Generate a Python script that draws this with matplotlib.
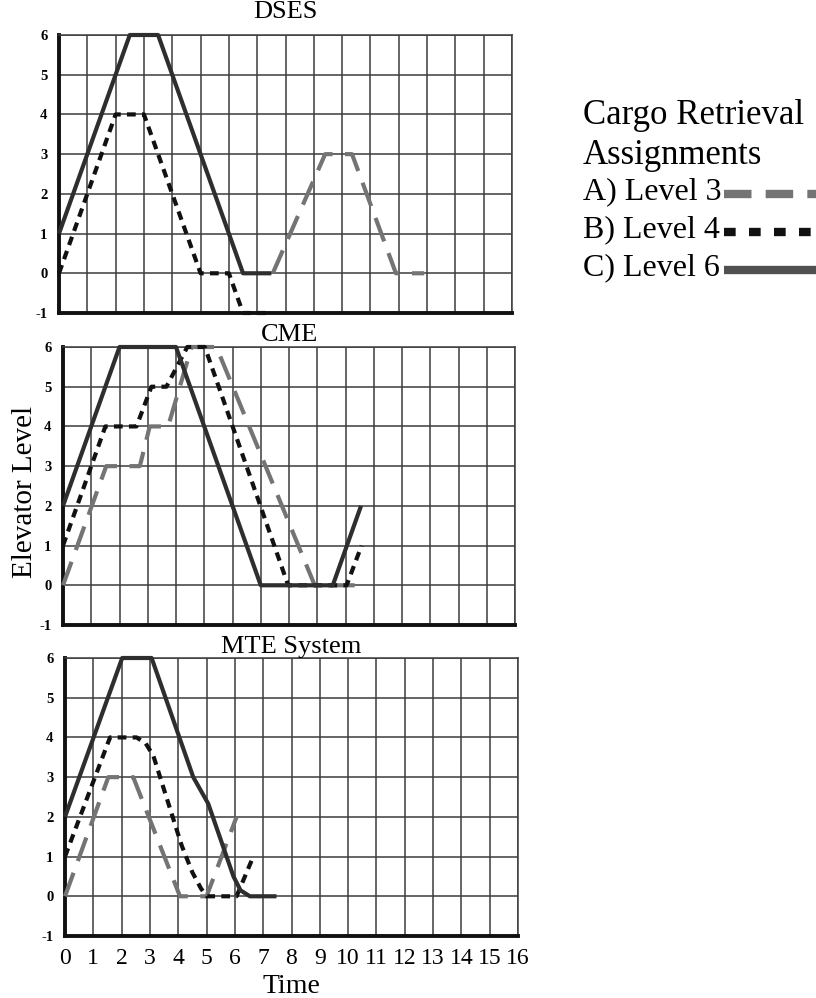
import numpy as np
import matplotlib
matplotlib.use("Agg")
import matplotlib.pyplot as plt
from matplotlib.lines import Line2D

plt.rcParams['font.family'] = ['Liberation Serif', 'DejaVu Serif']

# DSES
dses_t3 = [7.55, 9.4, 10.35, 11.9, 12.9]
dses_y3 = [0, 3, 3, 0, 0]
dses_t4 = [0, 2, 3, 5, 6, 6.5, 7.5]
dses_y4 = [0, 4, 4, 0, 0, -1, -1]
dses_t6 = [0, 2.5, 3.5, 6.5, 7.5]
dses_y6 = [1, 6, 6, 0, 0]

# CME
cme_t3 = [0, 1.53, 2.72, 3.07, 3.72, 4.55, 5.43, 8.91, 10.57]
cme_y3 = [0, 3, 3, 4, 4, 6, 6, 0, 0]
cme_t4 = [0, 1.5, 2.6, 3.13, 3.66, 4.4, 5.02, 7.97, 10.04, 10.57]
cme_y4 = [1, 4, 4, 5, 5, 6, 6, 0, 0, 1]
cme_t6 = [0, 2.0, 4.0, 7.0, 9.55, 10.55]
cme_y6 = [2, 6, 6, 0, 0, 2]

# MTE System
mte_t3 = [0, 1.53, 2.41, 4.06, 5.0, 6.06]
mte_y3 = [0, 3, 3, 0, 0, 2]
mte_t4 = [0, 1.59, 2.53, 2.85, 3.12, 4.12, 4.5, 4.8, 5.0, 6.06, 6.65]
mte_y4 = [1, 4, 4, 3.85, 3.54, 1.28, 0.6, 0.2, 0, 0, 1]
mte_t6 = [0, 2.02, 3.06, 4.53, 5.06, 5.95, 6.2, 6.53, 7.47]
mte_y6 = [2, 6, 6, 3, 2.33, 0.5, 0.15, 0, 0]

panels = [
    ("DSES", (dses_t3, dses_y3), (dses_t4, dses_y4), (dses_t6, dses_y6)),
    ("CME", (cme_t3, cme_y3), (cme_t4, cme_y4), (cme_t6, cme_y6)),
    ("MTE System", (mte_t3, mte_y3), (mte_t4, mte_y4), (mte_t6, mte_y6)),
]

x_ticks = list(range(0, 17))
y_ticks = list(range(-1, 7))

legend_labels = ["A) Level 3", "B) Level 4", "C) Level 6"]

c3 = "#747474"
c4 = "#111111"
c6 = "#2e2e2e"
ls3 = (0, (6, 3))
ls4 = (0, (2.1, 1.5))

W, H = 816, 998
fig = plt.figure(figsize=(W / 100, H / 100), dpi=100)

boxes = [(59, 512, 35, 313), (63, 515, 347, 625), (65, 518, 658, 936)]
title_y = [12, 335, 647]

for i, (name, s3, s4, s6) in enumerate(panels):
    l, r, t, b = boxes[i]
    ax = fig.add_axes([l / W, 1 - b / H, (r - l) / W, (b - t) / H])
    ax.set_xlim(0, 16)
    ax.set_ylim(-1, 6)
    ax.set_xticks(x_ticks)
    ax.set_yticks(y_ticks)
    ax.grid(True, color="#3c3c3c", lw=1.1)
    ax.set_axisbelow(True)
    ax.tick_params(length=0)
    ax.set_yticklabels([str(v) for v in y_ticks], fontsize=10.5, fontweight="bold")
    for tl in ax.get_yticklabels():
        tl.set_x(-0.015)
    if i == 2:
        ax.set_xticklabels([str(v) for v in x_ticks], fontsize=17)
        ax.tick_params(axis="x", pad=9)
        ax.set_xlabel("Time", fontsize=20, labelpad=3)
    else:
        ax.set_xticklabels([])
    for sp in ["left", "bottom"]:
        ax.spines[sp].set_linewidth(2.8)
        ax.spines[sp].set_color("#111111")
    for sp in ["top", "right"]:
        ax.spines[sp].set_linewidth(1.1)
        ax.spines[sp].set_color("#3c3c3c")
    ax.plot(s3[0], s3[1], color=c3, lw=3, ls=ls3, dash_capstyle="butt",
            clip_on=False, zorder=3)
    ax.plot(s4[0], s4[1], color=c4, lw=3, ls=ls4, dash_capstyle="butt",
            clip_on=False, zorder=3)
    ax.plot(s6[0], s6[1], color=c6, lw=3, solid_capstyle="butt",
            clip_on=False, zorder=3)
    fig.text((l + r) / 2 / W, 1 - title_y[i] / H, name, fontsize=19,
             ha="center", va="center")

fig.text(25 / W, 1 - 492 / H, "Elevator Level", fontsize=21, rotation=90,
         ha="center", va="center")

# legend block
fig.text(583 / W, 1 - 115 / H, "Cargo Retrieval", fontsize=25, ha="left", va="center")
fig.text(583 / W, 1 - 155 / H, "Assignments", fontsize=25, ha="left", va="center")
leg_y = [192, 230, 268]
leg_styles = [(c3, (0, (3.3, 1.7))), ("#111111", (0, (1.4, 1.6))), ("#505050", "-")]
for lab, yy, (col, st) in zip(legend_labels, leg_y, leg_styles):
    fig.text(583 / W, 1 - yy / H, lab, fontsize=23, ha="left", va="center")
    fig.add_artist(Line2D([724 / W, 816 / W], [1 - (yy + 2) / H, 1 - (yy + 2) / H],
                          transform=fig.transFigure, color=col, lw=6, ls=st,
                          dash_capstyle="butt", solid_capstyle="butt"))

fig.savefig("out.png", dpi=100)
